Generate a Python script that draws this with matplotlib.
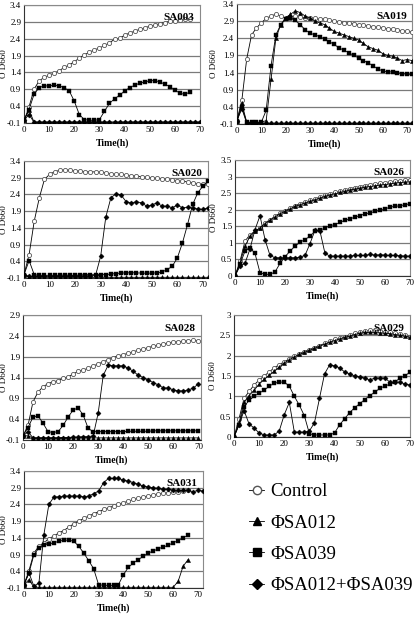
import matplotlib
matplotlib.use("Agg")
import matplotlib.pyplot as plt
from matplotlib.lines import Line2D
import numpy as np

plt.rcParams['font.family'] = ['Liberation Serif', 'DejaVu Serif']

W, H = 416, 619

# time points, every 2 h
t72 = list(range(0, 74, 2))
t70 = list(range(0, 72, 2))
t66 = list(range(0, 68, 2))

# ---- SA003 ----
sa003_control = [-0.05, 0.38, 0.9, 1.15, 1.25, 1.32, 1.38, 1.45, 1.55, 1.62, 1.72, 1.82, 1.92, 2.0,
                 2.07, 2.12, 2.2, 2.28, 2.38, 2.42, 2.5, 2.57, 2.62, 2.68, 2.72, 2.77, 2.8, 2.85,
                 2.88, 2.92, 2.93, 2.96, 2.97, 2.99]
sa003_012 = [-0.02, 0.28] + [-0.07] * 34
sa003_039 = [0.0, 0.3, 0.75, 0.95, 1.0, 1.0, 1.02, 1.0, 0.95, 0.85, 0.55, 0.15, 0.0, -0.02, -0.02, 0.0,
             0.25, 0.48, 0.62, 0.72, 0.85, 0.95, 1.02, 1.08, 1.12, 1.15, 1.16, 1.12, 1.05, 0.98,
             0.88, 0.78, 0.75, 0.82]
sa003_combo = [-0.02, 0.15] + [-0.08] * 34

# ---- SA019 ----
sa019_control = [0.0, 0.6, 1.8, 2.5, 2.7, 2.85, 2.98, 3.05, 3.1, 3.05, 2.98, 3.0, 3.05, 3.02, 3.0, 3.0,
                 2.98, 2.95, 2.97, 2.92, 2.9, 2.88, 2.86, 2.84, 2.82, 2.8, 2.78, 2.76, 2.74, 2.72,
                 2.7, 2.68, 2.66, 2.64, 2.62, 2.6, 2.58]
sa019_012 = [0.0, 0.5, -0.05, -0.05, -0.05, -0.05, 0.0, 1.2, 2.4, 2.8, 3.0, 3.1, 3.2, 3.15, 3.05, 3.0,
             2.9, 2.85, 2.8, 2.7, 2.6, 2.55, 2.5, 2.45, 2.4, 2.35, 2.25, 2.15, 2.1, 2.05, 1.95,
             1.9, 1.88, 1.82, 1.75, 1.78, 1.75]
sa019_039 = [0.0, 0.4, -0.05, -0.05, -0.05, -0.05, 0.3, 1.6, 2.5, 2.8, 2.95, 3.0, 2.92, 2.8, 2.65,
             2.55, 2.5, 2.45, 2.38, 2.3, 2.22, 2.12, 2.05, 1.98, 1.9, 1.83, 1.75, 1.68, 1.6, 1.5,
             1.45, 1.42, 1.42, 1.4, 1.37, 1.35, 1.35]
sa019_combo = [0.0, 0.35] + [-0.08] * 35

# ---- SA020 ----
sa020_control = [0.0, 0.6, 1.6, 2.3, 2.85, 3.0, 3.08, 3.12, 3.13, 3.12, 3.1, 3.1, 3.08, 3.08, 3.07,
                 3.07, 3.05, 3.02, 3.0, 3.0, 2.98, 2.96, 2.95, 2.93, 2.92, 2.9, 2.88, 2.87, 2.85,
                 2.82, 2.8, 2.8, 2.77, 2.75, 2.72, 2.7, 2.72]
sa020_012 = [0.0] + [-0.08] * 36
sa020_039 = [0.0, 0.42, 0.0, -0.02, -0.02, -0.02, -0.02, -0.02, -0.01, -0.02, -0.02, -0.01, 0.0, 0.0,
             0.0, 0.0, 0.0, 0.02, 0.03, 0.05, 0.05, 0.06, 0.05, 0.05, 0.04, 0.05, 0.05, 0.08, 0.15,
             0.25, 0.5, 0.95, 1.5, 2.1, 2.45, 2.65, 2.8]
sa020_combo = [0.0, -0.05, -0.05, -0.05, -0.05, -0.05, -0.05, -0.05, -0.05, -0.04, -0.04, -0.04,
               -0.04, -0.03, -0.02, 0.55, 1.72, 2.3, 2.42, 2.38, 2.18, 2.15, 2.18, 2.15, 2.05, 2.08,
               2.15, 2.05, 2.05, 2.0, 2.08, 2.0, 2.02, 1.98, 1.97, 1.95, 2.0]

# ---- SA026 ----
sa026_control = [0.0, 0.45, 1.05, 1.25, 1.35, 1.45, 1.6, 1.7, 1.8, 1.9, 1.97, 2.05, 2.12, 2.18, 2.23,
                 2.28, 2.33, 2.38, 2.43, 2.48, 2.52, 2.56, 2.6, 2.64, 2.67, 2.7, 2.73, 2.76, 2.78,
                 2.8, 2.82, 2.84, 2.86, 2.88, 2.89, 2.9]
sa026_012 = [0.0, 0.4, 0.9, 1.2, 1.35, 1.45, 1.58, 1.68, 1.78, 1.88, 1.95, 2.02, 2.1, 2.15, 2.2,
             2.25, 2.3, 2.35, 2.4, 2.45, 2.48, 2.52, 2.55, 2.6, 2.62, 2.65, 2.68, 2.7, 2.72, 2.74,
             2.76, 2.78, 2.8, 2.82, 2.83, 2.84]
sa026_039 = [0.0, 0.35, 0.75, 0.85, 0.68, 0.1, 0.05, 0.05, 0.12, 0.38, 0.58, 0.75, 0.9, 1.02, 1.1,
             1.2, 1.35, 1.38, 1.45, 1.52, 1.55, 1.62, 1.68, 1.72, 1.78, 1.82, 1.88, 1.9, 1.95,
             1.98, 2.02, 2.08, 2.1, 2.12, 2.15, 2.18]
sa026_combo = [0.0, 0.3, 0.38, 0.82, 1.4, 1.82, 1.1, 0.62, 0.55, 0.55, 0.55, 0.55, 0.55, 0.57, 0.62,
               0.98, 1.38, 1.35, 0.68, 0.6, 0.6, 0.6, 0.6, 0.6, 0.62, 0.62, 0.62, 0.65, 0.63, 0.64,
               0.63, 0.62, 0.62, 0.61, 0.6, 0.6]

# ---- SA028 ----
sa028_control = [0.0, 0.25, 0.82, 1.05, 1.18, 1.25, 1.3, 1.32, 1.38, 1.42, 1.48, 1.55, 1.58, 1.62,
                 1.68, 1.72, 1.78, 1.82, 1.88, 1.92, 1.95, 1.98, 2.02, 2.05, 2.08, 2.12, 2.15, 2.18,
                 2.2, 2.23, 2.25, 2.26, 2.27, 2.28, 2.29, 2.28]
sa028_012 = [0.0, 0.0] + [-0.05] * 34
sa028_039 = [0.0, 0.2, 0.45, 0.48, 0.3, 0.1, 0.08, 0.1, 0.25, 0.45, 0.62, 0.67, 0.5, 0.18, 0.1, 0.1,
             0.1, 0.1, 0.1, 0.1, 0.1, 0.11, 0.11, 0.11, 0.11, 0.11, 0.12, 0.12, 0.12, 0.12, 0.12,
             0.12, 0.12, 0.12, 0.12, 0.12]
sa028_combo = [0.0, 0.1, -0.05, -0.05, -0.05, -0.05, -0.05, -0.05, -0.04, -0.04, -0.03, -0.03, -0.02,
               -0.02, 0.0, 0.55, 1.45, 1.7, 1.68, 1.68, 1.68, 1.62, 1.55, 1.45, 1.4, 1.33, 1.28,
               1.22, 1.15, 1.15, 1.1, 1.08, 1.08, 1.1, 1.15, 1.25]

# ---- SA029 ----
sa029_control = [0.0, 0.45, 0.95, 1.12, 1.28, 1.4, 1.5, 1.6, 1.7, 1.78, 1.85, 1.92, 1.98, 2.05, 2.1,
                 2.15, 2.2, 2.25, 2.3, 2.35, 2.4, 2.43, 2.47, 2.5, 2.55, 2.58, 2.6, 2.62, 2.62, 2.6,
                 2.58, 2.57, 2.55, 2.53, 2.5, 2.47]
sa029_012 = [0.0, 0.35, 0.85, 1.02, 1.15, 1.3, 1.42, 1.52, 1.62, 1.72, 1.82, 1.9, 1.97, 2.03, 2.08,
             2.13, 2.18, 2.23, 2.28, 2.33, 2.37, 2.41, 2.45, 2.48, 2.52, 2.55, 2.57, 2.57, 2.57,
             2.56, 2.55, 2.54, 2.52, 2.5, 2.48, 2.45]
sa029_039 = [0.0, 0.3, 0.75, 0.9, 1.0, 1.08, 1.15, 1.25, 1.32, 1.35, 1.35, 1.25, 1.0, 0.78, 0.52,
             0.08, 0.05, 0.05, 0.05, 0.05, 0.1, 0.3, 0.45, 0.6, 0.72, 0.82, 0.92, 1.02, 1.1, 1.2,
             1.25, 1.3, 1.35, 1.45, 1.5, 1.6]
sa029_combo = [0.0, 0.3, 0.65, 0.32, 0.22, 0.1, 0.05, 0.05, 0.05, 0.15, 0.55, 0.85, 0.12, 0.12, 0.12,
               0.15, 0.35, 0.95, 1.55, 1.77, 1.75, 1.7, 1.6, 1.55, 1.5, 1.48, 1.45, 1.4, 1.45,
               1.45, 1.45, 1.35, 1.35, 1.35, 1.3, 1.28]

# ---- SA031 ----
sa031_control = [0.0, 0.42, 0.95, 1.15, 1.25, 1.38, 1.45, 1.55, 1.62, 1.72, 1.82, 1.9, 1.98, 2.05,
                 2.12, 2.18, 2.25, 2.3, 2.35, 2.4, 2.45, 2.5, 2.55, 2.58, 2.62, 2.65, 2.68, 2.72,
                 2.73, 2.75, 2.77, 2.78, 2.8, 2.82]
sa031_012 = [0.0, 0.15] + [-0.08] * 29 + [0.1, 0.55, 0.75]
sa031_039 = [0.0, 0.35, 0.9, 1.1, 1.2, 1.22, 1.25, 1.3, 1.33, 1.33, 1.3, 1.15, 0.95, 0.72, 0.48, 0.0,
             -0.02, -0.02, -0.02, 0.0, 0.3, 0.52, 0.65, 0.75, 0.85, 0.95, 1.0, 1.08, 1.12, 1.18,
             1.25, 1.32, 1.4, 1.48]
sa031_combo = [0.0, 0.35, -0.05, 0.05, 1.5, 2.4, 2.62, 2.63, 2.65, 2.65, 2.65, 2.65, 2.63, 2.65,
               2.72, 2.8, 3.05, 3.18, 3.18, 3.18, 3.12, 3.1, 3.05, 3.0, 2.95, 2.92, 2.9, 2.88,
               2.85, 2.85, 2.83, 2.82, 2.82, 2.82, 2.78, 2.82, 2.8]

legend_labels = ["Control", "ΦSA012", "ΦSA039", "ΦSA012+ΦSA039"]
markers = ["o", "^", "s", "D"]

# name, pixel box (left, top, right, bottom), ylabel x pixel, x range, y range, y ticks, series
panels = [
    ("SA003", (24, 5, 200, 123), 4, (0, 70), (-0.1, 3.4), np.arange(-0.1, 3.45, 0.5), "{:.1f}",
     [(t66, sa003_control), (t70, sa003_012), (t66, sa003_039), (t70, sa003_combo)]),
    ("SA019", (237, 4, 412, 124), 214, (0, 72), (-0.1, 3.4), np.arange(-0.1, 3.45, 0.5), "{:.1f}",
     [(t72, sa019_control), (t72, sa019_012), (t72, sa019_039), (t72, sa019_combo)]),
    ("SA020", (24, 161, 208, 278), 4, (0, 72), (-0.1, 3.4), np.arange(-0.1, 3.45, 0.5), "{:.1f}",
     [(t72, sa020_control), (t72, sa020_012), (t72, sa020_039), (t72, sa020_combo)]),
    ("SA026", (235, 160, 410, 276), 214, (0, 70), (0, 3.5), np.arange(0, 3.55, 0.5), "{:g}",
     [(t70, sa026_control), (t70, sa026_012), (t70, sa026_039), (t70, sa026_combo)]),
    ("SA028", (23, 315, 201, 440), 4, (0, 71), (-0.1, 2.9), np.arange(-0.1, 2.95, 0.5), "{:.1f}",
     [(t70, sa028_control), (t70, sa028_012), (t70, sa028_039), (t70, sa028_combo)]),
    ("SA029", (234, 315, 410, 437), 213, (0, 70), (0, 3.0), np.arange(0, 3.05, 0.5), "{:g}",
     [(t70, sa029_control), (t70, sa029_012), (t70, sa029_039), (t70, sa029_combo)]),
    ("SA031", (24, 471, 203, 588), 4, (0, 72), (-0.1, 3.4), np.arange(-0.1, 3.45, 0.5), "{:.1f}",
     [(t66, sa031_control), (t66, sa031_012), (t66, sa031_039), (t72, sa031_combo)]),
]

fig = plt.figure(figsize=(W / 100, H / 100), dpi=100)

for name, (l, t, r, b), ylab_x, xlim, ylim, yticks, fmt, series in panels:
    ax = fig.add_axes([l / W, 1 - b / H, (r - l) / W, (b - t) / H])
    for i, (x, y) in enumerate(series):
        if i == 0:
            ax.plot(x, y, color="black", lw=0.6, marker="o", ms=3.0, mfc="white",
                    mec="#555555", mew=0.6, zorder=3)
        else:
            ms = 3.0 if markers[i] != "D" else 2.6
            ax.plot(x, y, color="black", lw=0.6, marker=markers[i], ms=ms, mfc="black",
                    mec="black", mew=0.3, zorder=3)
    ax.set_xlim(*xlim)
    ax.set_ylim(*ylim)
    ax.set_xticks(range(0, 71, 10))
    ax.set_yticks(yticks)
    ax.set_yticklabels([fmt.format(v) for v in yticks])
    ax.yaxis.grid(True, color="#7a7a7a", lw=0.9)
    ax.set_axisbelow(True)
    ax.tick_params(labelsize=6.5, length=0, pad=2)
    for side in ("top", "right"):
        ax.spines[side].set_color("#8a8a8a")
        ax.spines[side].set_linewidth(0.8)
    for side in ("left", "bottom"):
        ax.spines[side].set_color("#333333")
        ax.spines[side].set_linewidth(0.8)
    ax.set_xlabel("Time(h)", fontsize=7, fontweight="bold", labelpad=3)
    ax.set_ylabel("O D660", fontsize=6.5, va="center")
    ax.yaxis.set_label_coords((ylab_x - l) / (r - l), 0.5)
    ax.text(0.97, 0.93, name, transform=ax.transAxes, ha="right", va="top",
            fontsize=8, fontweight="bold")

handles = []
for i, m in enumerate(markers):
    if i == 0:
        h = Line2D([], [], color="black", lw=0.6, marker=m, ms=6, mfc="white", mec="#555555")
    else:
        h = Line2D([], [], color="black", lw=0.6, marker=m, ms=6 if m != "D" else 5,
                   mfc="black", mec="black")
    handles.append(h)
fig.legend(handles, legend_labels, loc="upper left", bbox_to_anchor=(240 / W, 1 - 474 / H),
           frameon=False, fontsize=13.5, handlelength=0.8, handletextpad=0.3, labelspacing=0.75,
           borderpad=0)

fig.savefig("out.png", dpi=100)
